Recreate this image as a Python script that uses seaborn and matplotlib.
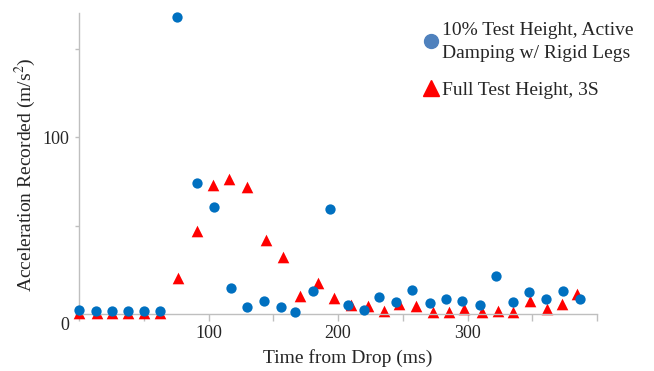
import matplotlib
matplotlib.use("Agg")
import matplotlib.pyplot as plt
import matplotlib.transforms as mtransforms
from matplotlib.lines import Line2D
from matplotlib.ticker import MultipleLocator
import pandas as pd
import seaborn as sns

# ---------------------------------------------------
# Data
# ---------------------------------------------------
time_rigid = [0, 13, 25.6, 38, 50.4, 62.8, 75.2, 90.7, 103.9, 117, 130, 142.6,
              155.8, 166.7, 180.6, 193.8, 207.8, 220, 231.8, 245, 257.4, 271.3,
              283, 295.3, 309.3, 321.7, 334.9, 347.3, 360.5, 373.6, 386.8]
accel_rigid = [2.0, 1.8, 1.5, 1.5, 1.5, 1.7, 168, 73.8, 60.3, 14.5, 4.1, 7.5,
               4.1, 1.0, 13.0, 59.1, 5.1, 2.3, 9.8, 7.0, 13.6, 6.0,
               8.3, 7.5, 5.1, 21.5, 7.0, 12.3, 8.6, 13.0, 8.5]

time_3s = [0, 14, 25.6, 38, 50.4, 62.8, 76, 90.7, 103.1, 115.5, 129.5, 144.2,
           157.4, 170.5, 184.5, 196.9, 210.1, 223.3, 235.7, 247.3, 260.5, 272.9,
           285.3, 296.9, 310.9, 323.3, 334.9, 348.1, 361.2, 372.9, 384.5]
accel_3s = [0.5, 0.5, 0.3, 0.3, 0.3, 0.5, 20.2, 46.9, 72.9, 76.1, 71.9, 41.8,
            32.0, 10.2, 17.7, 9.2, 5.1, 4.5, 1.7, 5.6, 4.5, 1.0,
            1.0, 2.7, 1.3, 1.7, 1.3, 7.3, 2.7, 5.6, 11.3]

label_rigid = "10% Test Height, Active\nDamping w/ Rigid Legs"
label_3s = "Full Test Height, 3S"

df_rigid = pd.DataFrame({"Time": time_rigid, "Accel": accel_rigid})
df_3s = pd.DataFrame({"Time": time_3s, "Accel": accel_3s})

# ---------------------------------------------------
# Plot
# ---------------------------------------------------
sns.set_style("white")
plt.rcParams["font.family"] = ["Liberation Serif", "DejaVu Serif"]
plt.rcParams["mathtext.fontset"] = "stix"

fig = plt.figure(figsize=(6.54, 3.71), dpi=100)
ax = fig.add_axes([0.121, 0.1536, 0.792, 0.811])

sns.scatterplot(data=df_rigid, x="Time", y="Accel", ax=ax, color="#0070C0",
                marker="o", s=55, linewidth=0, legend=False, zorder=3,
                clip_on=False)
sns.scatterplot(data=df_3s, x="Time", y="Accel", ax=ax, color="#FF0000",
                marker="^", s=70, linewidth=0, legend=False, zorder=2,
                clip_on=False)

ax.set_xlim(0, 400)
ax.set_ylim(0, 170)
ax.set_xticks([100, 200, 300])
ax.xaxis.set_minor_locator(MultipleLocator(50))
ax.set_yticks([0, 100])
ax.yaxis.set_minor_locator(MultipleLocator(50))
ax.tick_params(axis="both", which="both", direction="out", length=3,
               width=1, color="#BFBFBF", labelsize=13, bottom=True, left=True)
ax.tick_params(axis="x", which="both", length=5, pad=3)
ax.tick_params(axis="y", which="both", pad=4)

for side in ["top", "right"]:
    ax.spines[side].set_visible(False)
for side in ["left", "bottom"]:
    ax.spines[side].set_color("#BFBFBF")
    ax.spines[side].set_linewidth(1)

# the "0" label sits a little lower in the reference
fig.canvas.draw()
zero_lbl = ax.get_yticklabels()[0]
zero_lbl.set_transform(zero_lbl.get_transform() +
                       mtransforms.ScaledTranslation(0, -9 / 100, fig.dpi_scale_trans))

ax.set_xlabel("Time from Drop (ms)", fontsize=14)
ax.xaxis.set_label_coords(0.519, -0.115)
ax.set_ylabel("Acceleration Recorded (m/s$^2$)", fontsize=14)
ax.yaxis.set_label_coords(-0.079, 0.462)

handles = [
    Line2D([], [], marker="o", linestyle="", color="#4F81BD", markersize=10),
    Line2D([], [], marker="^", linestyle="", color="#FF0000", markersize=11),
]
leg = fig.legend(handles, [label_rigid, label_3s], loc="upper left",
                 bbox_to_anchor=(0.633, 0.962), frameon=False, fontsize=14,
                 handletextpad=0.05, handlelength=1.0, labelspacing=1.0,
                 borderaxespad=0)
for t in leg.get_texts():
    t.set_linespacing(1.45)

fig.savefig("out.png", dpi=100)
